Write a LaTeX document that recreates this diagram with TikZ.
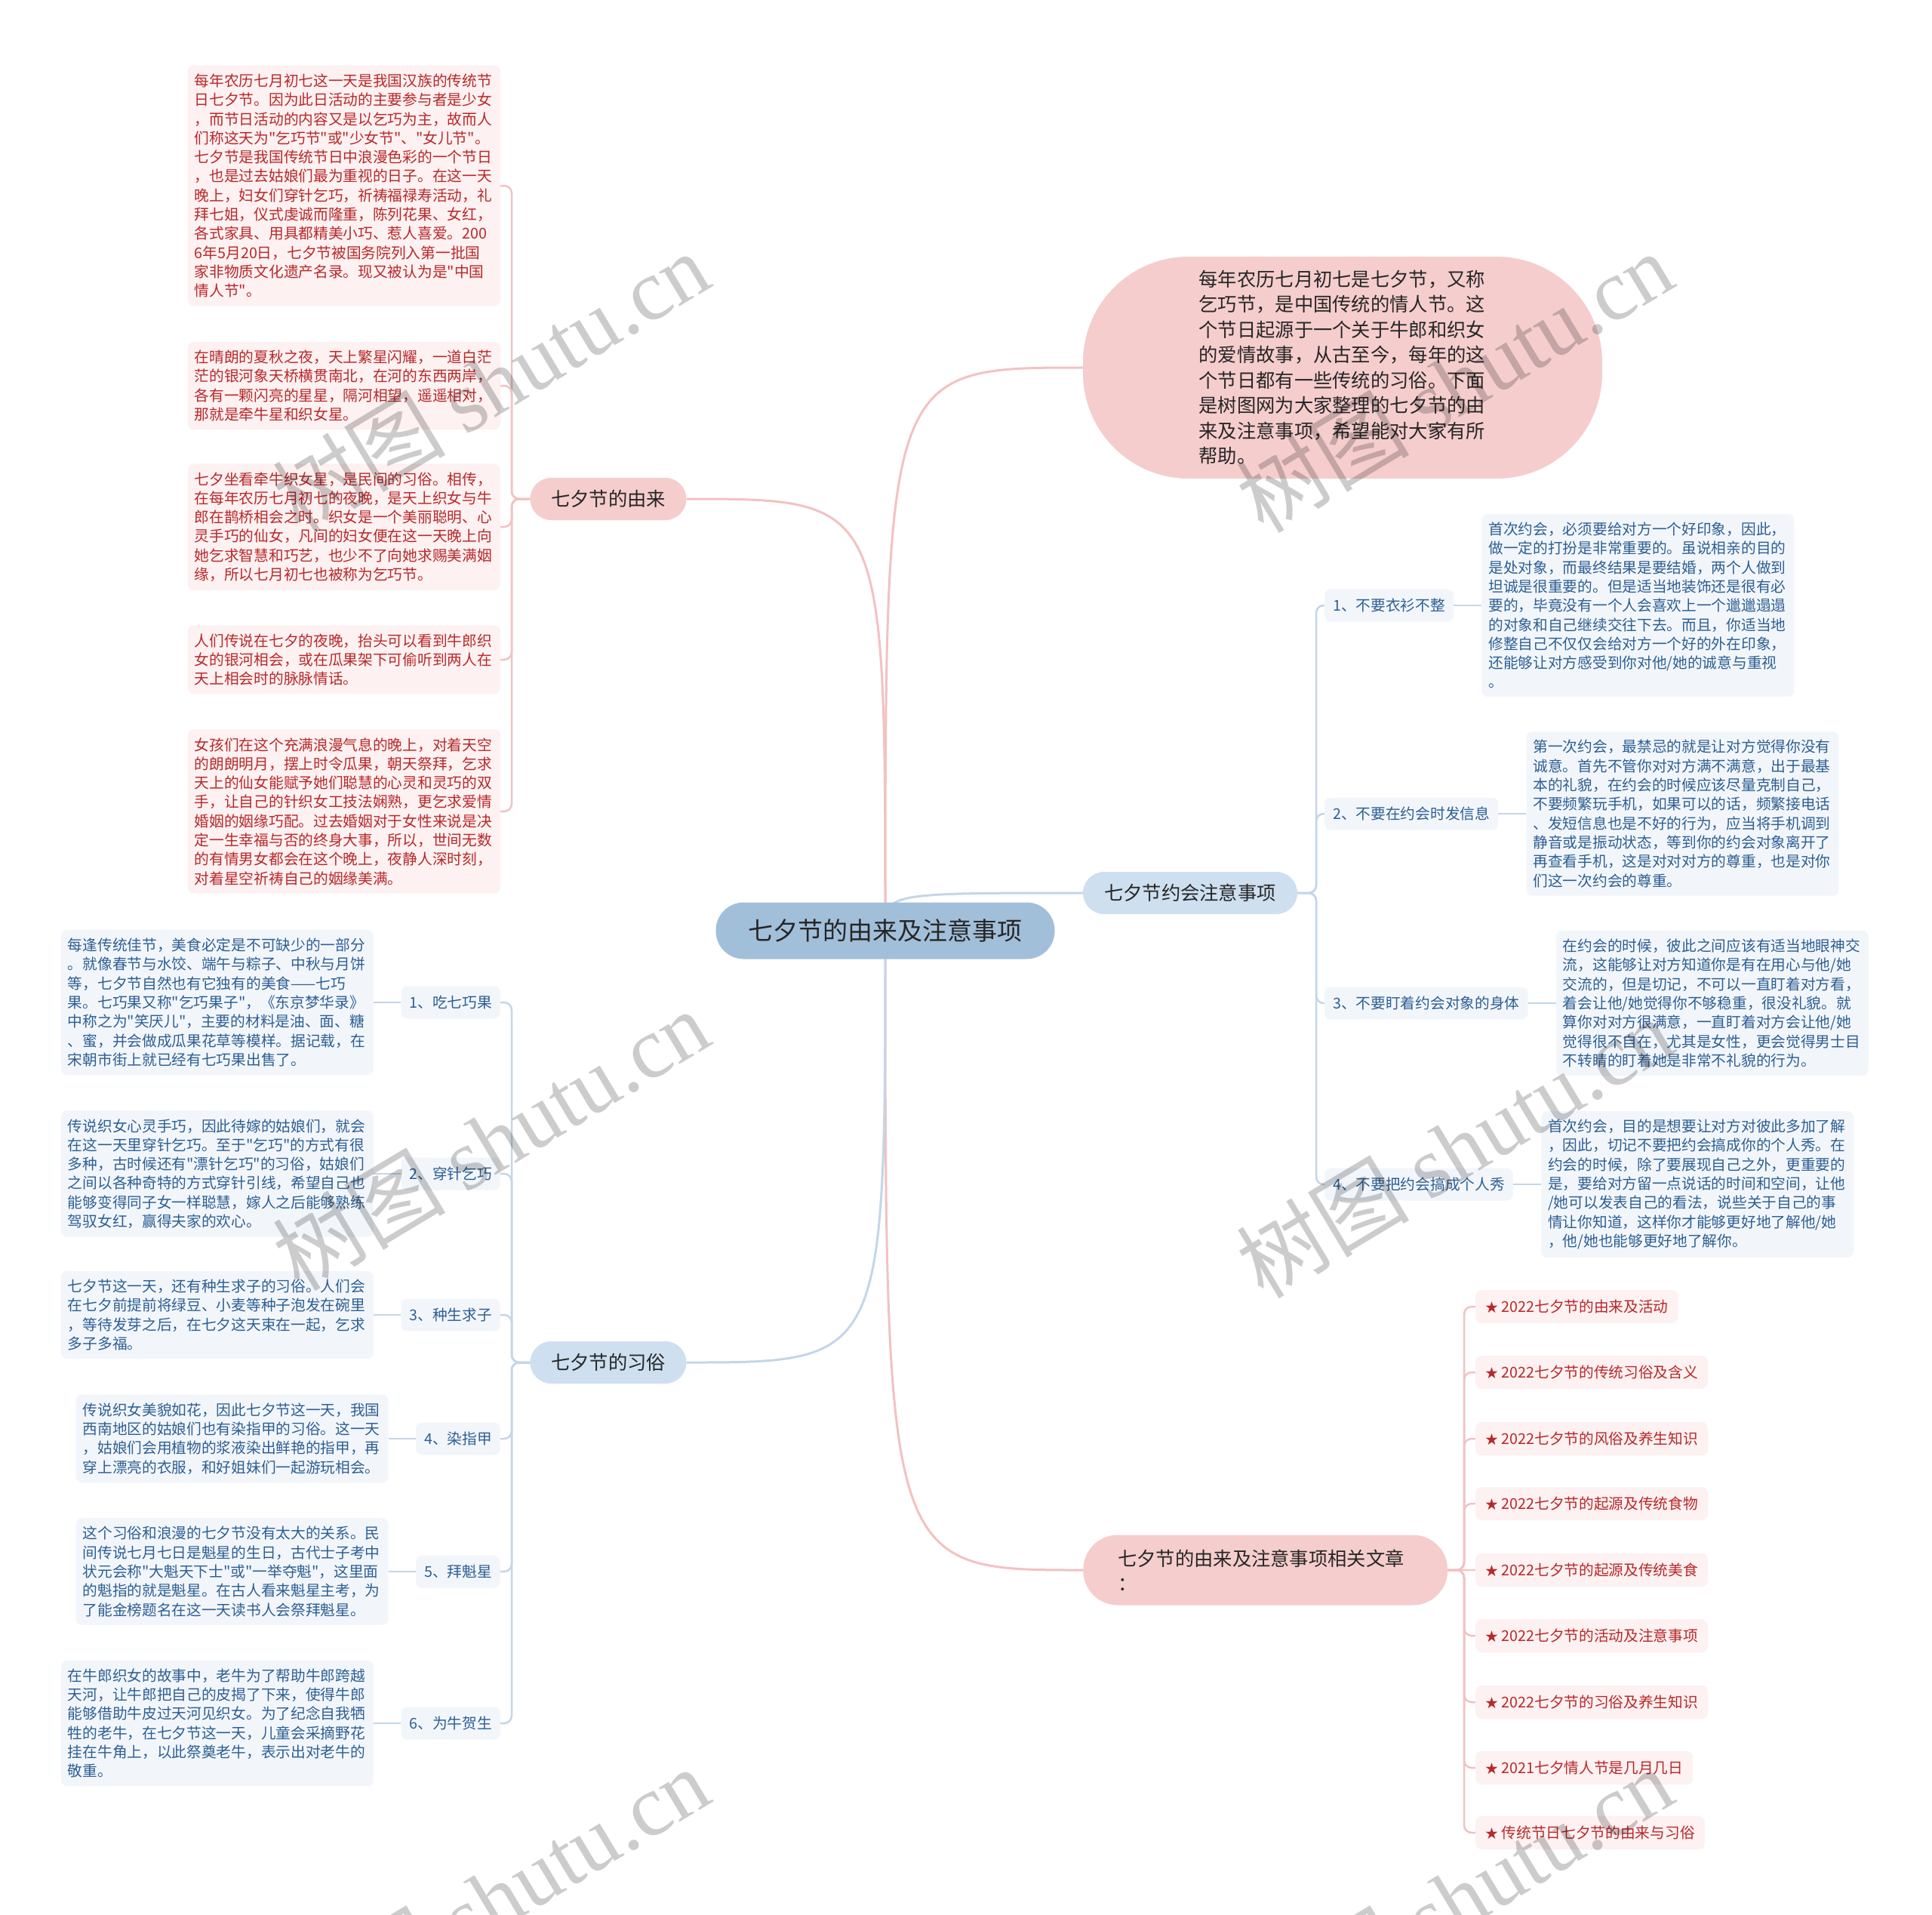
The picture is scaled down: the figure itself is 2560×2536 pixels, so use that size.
\documentclass[tikz,border=0pt]{standalone}
\usepackage{fontspec}
\setmainfont{Noto Sans CJK SC}[Ligatures=TeXOff]
\newfontfamily\wmlatin{Liberation Serif}
\usetikzlibrary{backgrounds}
\definecolor{pinkfill}{HTML}{F5CDCD}
\definecolor{bluefill}{HTML}{CEDFF0}
\definecolor{centerfill}{HTML}{A2BFDA}
\definecolor{pinkline}{HTML}{F2C2C2}
\definecolor{blueline}{HTML}{C4D6E8}
\definecolor{pinkbg}{HTML}{FDF1F1}
\definecolor{bluebg}{HTML}{F2F6FB}
\definecolor{redtext}{HTML}{B8282A}
\definecolor{bluetext}{HTML}{2D5F92}
\definecolor{darktext}{HTML}{262626}
\tikzset{
  mainnode/.style={fill=centerfill, text=darktext, rounded corners=37pt, minimum width=449pt, minimum height=75pt, inner sep=0pt, font=\fontsize{33}{40}\selectfont},
  pinkbranch/.style={fill=pinkfill, text=darktext, rounded corners=28pt, minimum width=207pt, minimum height=56pt, inner sep=0pt, font=\fontsize{25.3}{33.5}\selectfont},
  bluebranch/.style={pinkbranch, fill=bluefill},
  descbox/.style={fill=pinkfill, text=darktext, rounded corners=140pt, minimum width=688pt, minimum height=294pt, text width=381pt, align=left, font=\fontsize{25.3}{33.5}\selectfont},
  relbox/.style={fill=pinkfill, text=darktext, rounded corners=46pt, minimum height=93pt, inner xsep=46pt, text width=391pt, align=left, font=\fontsize{25.3}{33.5}\selectfont},
  textblock/.style={rounded corners=8pt, text width=396pt, align=left, inner xsep=9pt, inner ysep=11pt, font=\fontsize{19.7}{25.3}\selectfont},
  pinkblock/.style={textblock, fill=pinkbg, text=redtext},
  blueblock/.style={textblock, fill=bluebg, text=bluetext},
  sublabel/.style={fill=bluebg, text=bluetext, rounded corners=8pt, minimum height=43pt, inner xsep=11pt, inner ysep=0pt, font=\fontsize{19.7}{24}\selectfont},
  staritem/.style={fill=pinkbg, text=redtext, rounded corners=8pt, minimum height=44pt, inner xsep=13pt, inner ysep=0pt, font=\fontsize{19.7}{24}\selectfont},
  pinkmain/.style={draw=pinkline, line width=3pt},
  bluemain/.style={draw=blueline, line width=3pt},
  pinkconn/.style={draw=pinkline, line width=2.5pt, rounded corners=10pt},
  blueconn/.style={draw=blueline, line width=2.5pt, rounded corners=10pt},
  watermark/.style={text=black, text opacity=0.2, rotate=31, font=\fontsize{115}{120}\selectfont},
}
\newcommand{\wmtext}{树图 {\wmlatin shutu.cn}}
\newcommand{\smallstar}{{\fontsize{17}{17}\selectfont ★}}
\begin{document}
\begin{tikzpicture}[x=1pt,y=-1pt]
\useasboundingbox (0,0) rectangle (2560,2536);
\begin{scope}[on background layer]
\fill[white] (0,0) rectangle (2560,2536);
\end{scope}

% central and branch nodes
\node[mainnode] (center) at (1173,1233) {七夕节的由来及注意事项};
\node[pinkbranch] (youlai) at (806,661) {七夕节的由来};
\node[bluebranch] (xisu) at (806,1805) {七夕节的习俗};
\node[descbox] (desc) at (1779,487) {每年农历七月初七是七夕节，又称\\乞巧节，是中国传统的情人节。这\\个节日起源于一个关于牛郎和织女\\的爱情故事，从古至今，每年的这\\个节日都有一些传统的习俗。下面\\是树图网为大家整理的七夕节的由\\来及注意事项，希望能对大家有所\\帮助。};
\node[bluebranch, minimum width=284pt] (yuehui) at (1577,1183) {七夕节约会注意事项};
\node[relbox, anchor=west] (rel) at (1435,2080) {七夕节的由来及注意事项相关文章\\：};

% origin blocks
\node[pinkblock, anchor=east] (ya) at (663,246) {每年农历七月初七这一天是我国汉族的传统节\\日七夕节。因为此日活动的主要参与者是少女\\，而节日活动的内容又是以乞巧为主，故而人\\们称这天为"乞巧节"或"少女节"、"女儿节"。\\七夕节是我国传统节日中浪漫色彩的一个节日\\，也是过去姑娘们最为重视的日子。在这一天\\晚上，妇女们穿针乞巧，祈祷福禄寿活动，礼\\拜七姐，仪式虔诚而隆重，陈列花果、女红，\\各式家具、用具都精美小巧、惹人喜爱。200\\6年5月20日，七夕节被国务院列入第一批国\\家非物质文化遗产名录。现又被认为是"中国\\情人节"。};
\node[pinkblock, anchor=east] (yb) at (663,511) {在晴朗的夏秋之夜，天上繁星闪耀，一道白茫\\茫的银河象天桥横贯南北，在河的东西两岸，\\各有一颗闪亮的星星，隔河相望，遥遥相对，\\那就是牵牛星和织女星。};
\node[pinkblock, anchor=east] (yc) at (663,698) {七夕坐看牵牛织女星，是民间的习俗。相传，\\在每年农历七月初七的夜晚，是天上织女与牛\\郎在鹊桥相会之时。织女是一个美丽聪明、心\\灵手巧的仙女，凡间的妇女便在这一天晚上向\\她乞求智慧和巧艺，也少不了向她求赐美满姻\\缘，所以七月初七也被称为乞巧节。};
\node[pinkblock, anchor=east] (yd) at (663,874) {人们传说在七夕的夜晚，抬头可以看到牛郎织\\女的银河相会，或在瓜果架下可偷听到两人在\\天上相会时的脉脉情话。};
\node[pinkblock, anchor=east] (ye) at (663,1075) {女孩们在这个充满浪漫气息的晚上，对着天空\\的朗朗明月，摆上时令瓜果，朝天祭拜，乞求\\天上的仙女能赋予她们聪慧的心灵和灵巧的双\\手，让自己的针织女工技法娴熟，更乞求爱情\\婚姻的姻缘巧配。过去婚姻对于女性来说是决\\定一生幸福与否的终身大事，所以，世间无数\\的有情男女都会在这个晚上，夜静人深时刻，\\对着星空祈祷自己的姻缘美满。};

% customs labels and blocks
\node[sublabel, anchor=east] (x1) at (663,1328) {1、吃七巧果};
\node[sublabel, anchor=east] (x2) at (663,1555) {2、穿针乞巧};
\node[sublabel, anchor=east] (x3) at (663,1742) {3、种生求子};
\node[sublabel, anchor=east] (x4) at (663,1906) {4、染指甲};
\node[sublabel, anchor=east] (x5) at (663,2082) {5、拜魁星};
\node[sublabel, anchor=east] (x6) at (663,2283) {6、为牛贺生};
\node[blueblock, anchor=east] (xb1) at ([xshift=-36pt]x1.west) {每逢传统佳节，美食必定是不可缺少的一部分\\。就像春节与水饺、端午与粽子、中秋与月饼\\等，七夕节自然也有它独有的美食——七巧\\果。七巧果又称"乞巧果子"，《东京梦华录》\\中称之为"笑厌儿"，主要的材料是油、面、糖\\、蜜，并会做成瓜果花草等模样。据记载，在\\宋朝市街上就已经有七巧果出售了。};
\node[blueblock, anchor=east] (xb2) at ([xshift=-36pt]x2.west) {传说织女心灵手巧，因此待嫁的姑娘们，就会\\在这一天里穿针乞巧。至于"乞巧"的方式有很\\多种，古时候还有"漂针乞巧"的习俗，姑娘们\\之间以各种奇特的方式穿针引线，希望自己也\\能够变得同子女一样聪慧，嫁人之后能够熟练\\驾驭女红，赢得夫家的欢心。};
\node[blueblock, anchor=east] (xb3) at ([xshift=-36pt]x3.west) {七夕节这一天，还有种生求子的习俗。人们会\\在七夕前提前将绿豆、小麦等种子泡发在碗里\\，等待发芽之后，在七夕这天束在一起，乞求\\多子多福。};
\node[blueblock, anchor=east] (xb4) at ([xshift=-36pt]x4.west) {传说织女美貌如花，因此七夕节这一天，我国\\西南地区的姑娘们也有染指甲的习俗。这一天\\，姑娘们会用植物的浆液染出鲜艳的指甲，再\\穿上漂亮的衣服，和好姐妹们一起游玩相会。};
\node[blueblock, anchor=east] (xb5) at ([xshift=-36pt]x5.west) {这个习俗和浪漫的七夕节没有太大的关系。民\\间传说七月七日是魁星的生日，古代士子考中\\状元会称"大魁天下士"或"一举夺魁"，这里面\\的魁指的就是魁星。在古人看来魁星主考，为\\了能金榜题名在这一天读书人会祭拜魁星。};
\node[blueblock, anchor=east] (xb6) at ([xshift=-36pt]x6.west) {在牛郎织女的故事中，老牛为了帮助牛郎跨越\\天河，让牛郎把自己的皮揭了下来，使得牛郎\\能够借助牛皮过天河见织女。为了纪念自我牺\\牲的老牛，在七夕节这一天，儿童会采摘野花\\挂在牛角上，以此祭奠老牛，表示出对老牛的\\敬重。};

% dating labels and blocks
\node[sublabel, anchor=west] (r1) at (1755,802) {1、不要衣衫不整};
\node[sublabel, anchor=west] (r2) at (1755,1078) {2、不要在约会时发信息};
\node[sublabel, anchor=west] (r3) at (1755,1329) {3、不要盯着约会对象的身体};
\node[sublabel, anchor=west] (r4) at (1755,1569) {4、不要把约会搞成个人秀};
\node[blueblock, anchor=west] (rb1) at ([xshift=37pt]r1.east) {首次约会，必须要给对方一个好印象，因此，\\做一定的打扮是非常重要的。虽说相亲的目的\\是处对象，而最终结果是要结婚，两个人做到\\坦诚是很重要的。但是适当地装饰还是很有必\\要的，毕竟没有一个人会喜欢上一个邋邋遢遢\\的对象和自己继续交往下去。而且，你适当地\\修整自己不仅仅会给对方一个好的外在印象，\\还能够让对方感受到你对他/她的诚意与重视\\。};
\node[blueblock, anchor=west] (rb2) at ([xshift=37pt]r2.east) {第一次约会，最禁忌的就是让对方觉得你没有\\诚意。首先不管你对对方满不满意，出于最基\\本的礼貌，在约会的时候应该尽量克制自己，\\不要频繁玩手机，如果可以的话，频繁接电话\\、发短信息也是不好的行为，应当将手机调到\\静音或是振动状态，等到你的约会对象离开了\\再查看手机，这是对对对方的尊重，也是对你\\们这一次约会的尊重。};
\node[blueblock, anchor=west] (rb3) at ([xshift=37pt]r3.east) {在约会的时候，彼此之间应该有适当地眼神交\\流，这能够让对方知道你是有在用心与他/她\\交流的，但是切记，不可以一直盯着对方看，\\着会让他/她觉得你不够稳重，很没礼貌。就\\算你对对方很满意，一直盯着对方会让他/她\\觉得很不自在，尤其是女性，更会觉得男士目\\不转睛的盯着她是非常不礼貌的行为。};
\node[blueblock, anchor=west] (rb4) at ([xshift=37pt]r4.east) {首次约会，目的是想要让对方对彼此多加了解\\，因此，切记不要把约会搞成你的个人秀。在\\约会的时候，除了要展现自己之外，更重要的\\是，要给对方留一点说话的时间和空间，让他\\/她可以发表自己的看法，说些关于自己的事\\情让你知道，这样你才能够更好地了解他/她\\，他/她也能够更好地了解你。};

% related articles
\node[staritem, anchor=west] (s1) at (1955,1731) {\smallstar\ 2022七夕节的由来及活动};
\node[staritem, anchor=west] (s2) at (1955,1818) {\smallstar\ 2022七夕节的传统习俗及含义};
\node[staritem, anchor=west] (s3) at (1955,1906) {\smallstar\ 2022七夕节的风俗及养生知识};
\node[staritem, anchor=west] (s4) at (1955,1992) {\smallstar\ 2022七夕节的起源及传统食物};
\node[staritem, anchor=west] (s5) at (1955,2080) {\smallstar\ 2022七夕节的起源及传统美食};
\node[staritem, anchor=west] (s6) at (1955,2167) {\smallstar\ 2022七夕节的活动及注意事项};
\node[staritem, anchor=west] (s7) at (1955,2255) {\smallstar\ 2022七夕节的习俗及养生知识};
\node[staritem, anchor=west] (s8) at (1955,2342) {\smallstar\ 2021七夕情人节是几月几日};
\node[staritem, anchor=west] (s9) at (1955,2428) {\smallstar\ 传统节日七夕节的由来与习俗};

% connectors
\begin{scope}[on background layer]
\draw[pinkmain] (center.center) .. controls (center.center |- youlai.east) .. (youlai.east);
\draw[pinkmain] (center.center) .. controls (center.center |- desc.west) .. (desc.west);
\draw[bluemain] (center.center) .. controls (center.center |- yuehui.west) .. (yuehui.west);
\draw[pinkmain] (center.center) .. controls (center.center |- rel.west) .. (rel.west);
\draw[bluemain] (center.center) .. controls (center.center |- xisu.east) .. (xisu.east);
\foreach \c in {ya,yb,yc,yd,ye}{
  \draw[pinkconn] (youlai.west) -| ([xshift=15pt]\c.east) -- (\c.east);
}
\foreach \i in {1,...,6}{
  \draw[blueconn] (xisu.west) -| ([xshift=15pt]x\i.east) -- (x\i.east);
  \draw[blueconn] (x\i.west) -- (xb\i.east);
}
\foreach \i in {1,...,4}{
  \draw[blueconn] (yuehui.east) -| ([xshift=-11pt]r\i.west) -- (r\i.west);
  \draw[blueconn] (r\i.east) -- (rb\i.west);
}
\foreach \c in {s1,s2,s3,s4,s6,s7,s8,s9}{
  \draw[pinkconn] (rel.east) -| ([xshift=-15pt]\c.west) -- (\c.west);
}
\draw[pinkconn] (rel.east) -- (s5.west);
\end{scope}

% watermarks
\node[watermark] (w1) at (650,506) {\wmtext};
\node[watermark] (w2) at (1927,506) {\wmtext};
\node[watermark] (w3) at (650,1510) {\wmtext};
\node[watermark] (w4) at (1927,1520) {\wmtext};
\node[watermark] (w5) at (650,2514) {\wmtext};
\node[watermark] (w6) at (1927,2514) {\wmtext};
\end{tikzpicture}
\end{document}
